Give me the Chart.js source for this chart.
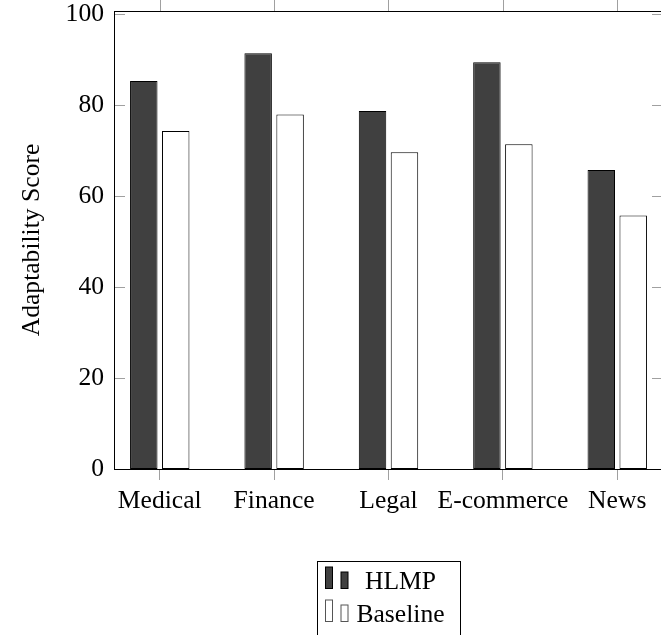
<!DOCTYPE html>
<html><head><meta charset="utf-8">
<script src="https://cdn.jsdelivr.net/npm/chart.js@4/dist/chart.umd.min.js"></script>
<style>html,body{margin:0;padding:0;background:#fff;overflow:hidden;width:661px;height:635px}canvas{display:block}</style>
</head><body>
<canvas id="c" width="670" height="635"></canvas>
<script>
const categories = ['Medical', 'Finance', 'Legal', 'E-commerce', 'News'];
const hlmpScores = [85.3, 91.4, 78.7, 89.4, 65.7];
const baselineScores = [74.3, 77.9, 69.6, 71.4, 55.7];
const yTickValues = [0, 20, 40, 60, 80, 100];
const seriesNames = ['HLMP', 'Baseline'];
const yTitle = 'Adaptability Score';

const FONT = 'Liberation Serif';
const TICK_GRAY = '#a0a0a0';

const framePlugin = {
  id: 'frame',
  afterDraw(chart) {
    const {ctx, chartArea: a, scales: {x, y}} = chart;
    ctx.save();
    ctx.lineWidth = 1;
    // inside y ticks (left and right)
    ctx.strokeStyle = TICK_GRAY;
    yTickValues.forEach(v => {
      const py = Math.round(y.getPixelForValue(v)) + 0.5;
      ctx.beginPath();
      ctx.moveTo(a.left, py); ctx.lineTo(a.left + 11, py);
      ctx.moveTo(a.right, py); ctx.lineTo(a.right - 11, py);
      ctx.stroke();
    });
    // outside x ticks on top
    categories.forEach((c, i) => {
      const px = Math.round(x.getPixelForValue(i)) + 0.5;
      ctx.beginPath();
      ctx.moveTo(px, a.top); ctx.lineTo(px, a.top - 11);
      ctx.stroke();
    });
    // axis frame
    ctx.strokeStyle = '#000';
    ctx.strokeRect(Math.round(a.left) + 0.5, Math.round(a.top) + 0.5,
                   Math.round(a.right - a.left), Math.round(a.bottom - a.top));
    // legend
    const cx = (a.left + a.right) / 2;
    const W = 143;
    const L = Math.round(cx - W / 2) + 0.5;
    const T = Math.round(a.bottom + 92) + 0.5;
    ctx.strokeStyle = '#000';
    ctx.strokeRect(L, T, W, 90);
    ctx.font = '25.6px "' + FONT + '"';
    ctx.textAlign = 'center';
    ctx.textBaseline = 'alphabetic';
    chart.data.datasets.forEach((ds, k) => {
      const b = T + 27 + k * 33;
      ctx.fillStyle = ds.backgroundColor;
      ctx.strokeStyle = k === 0 ? '#000' : '#555';
      ctx.fillRect(L + 8, b - 21.5, 7, 21.5);
      ctx.strokeRect(L + 8, b - 21.5, 7, 21.5);
      ctx.fillRect(L + 23.5, b - 16.5, 7, 16.5);
      ctx.strokeRect(L + 23.5, b - 16.5, 7, 16.5);
      ctx.fillStyle = '#000';
      ctx.fillText(ds.label, L + 83, b);
    });
    ctx.restore();
  }
};

new Chart(document.getElementById('c'), {
  type: 'bar',
  data: {
    datasets: [
      {
        label: seriesNames[0],
        data: hlmpScores.map((v, i) => ({x: i, y: v})),
        backgroundColor: '#404040',
        borderColor: '#000',
        borderWidth: 1,
        borderSkipped: false
      },
      {
        label: seriesNames[1],
        data: baselineScores.map((v, i) => ({x: i, y: v})),
        backgroundColor: '#ffffff',
        borderColor: '#000',
        borderWidth: 1,
        borderSkipped: false
      }
    ]
  },
  options: {
    responsive: false,
    devicePixelRatio: 1,
    animation: false,
    categoryPercentage: 0.5585,
    barPercentage: 0.86,
    layout: {padding: {top: 11, right: 7, bottom: 0, left: 0}},
    plugins: {legend: {display: false}, tooltip: {enabled: false}},
    scales: {
      x: {
        type: 'linear',
        offset: false,
        min: -0.4,
        max: 4.4,
        afterBuildTicks: s => { s.ticks = categories.map((c, i) => ({value: i})); },
        afterFit: s => { s.height = 166; s.paddingLeft = 0; s.paddingRight = 0; },
        grid: {display: true, offset: false, drawOnChartArea: false, drawTicks: true, tickLength: 11, color: TICK_GRAY, lineWidth: 1},
        border: {display: false},
        ticks: {
          autoSkip: false, maxRotation: 0, minRotation: 0, padding: 6,
          color: '#000', font: {family: FONT, size: 25.6},
          callback: v => categories[v]
        }
      },
      y: {
        min: 0,
        max: 100.66,
        afterBuildTicks: s => { s.ticks = yTickValues.map(v => ({value: v})); },
        afterFit: s => { s.width = 114; s.paddingTop = 0; s.paddingBottom = 0; },
        grid: {display: false, drawTicks: false},
        border: {display: false},
        ticks: {padding: 10, color: '#000', font: {family: FONT, size: 25.6}},
        title: {
          display: true, text: yTitle, color: '#000',
          font: {family: FONT, size: 25.6, lineHeight: 1},
          padding: {top: 19, bottom: 0}
        }
      }
    }
  },
  plugins: [framePlugin]
});
</script>
</body></html>
